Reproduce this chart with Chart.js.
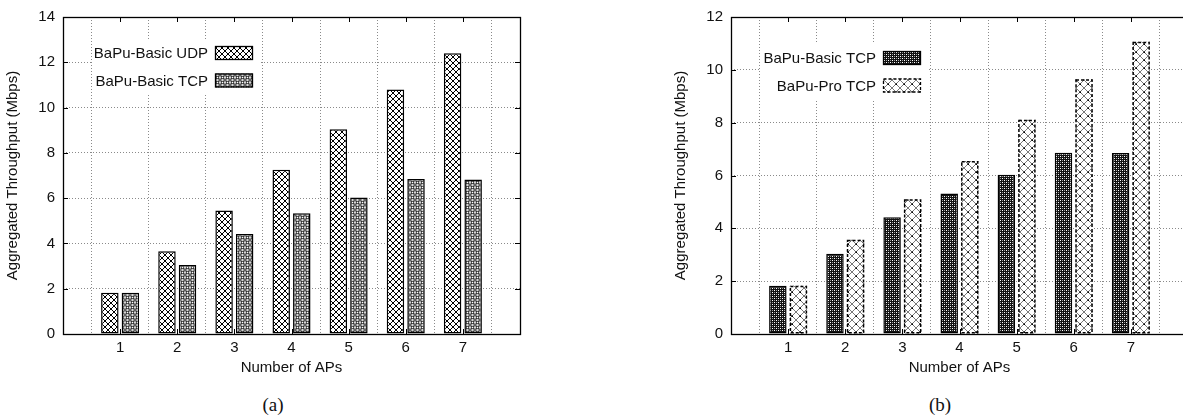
<!DOCTYPE html>
<html>
<head>
<meta charset="utf-8">
<script src="https://cdn.jsdelivr.net/npm/chart.js@4.4.1/dist/chart.umd.min.js"></script>
<style>
  html, body { margin: 0; padding: 0; background: #fff; overflow: hidden; width: 1183px; height: 417px; }
  .box { position: absolute; top: 0; width: 530px; height: 380px; }
  #boxA { left: 0; }
  #boxB { left: 668px; }
  .cap { position: absolute; top: 394px; line-height: 24px; font: 19px "Liberation Serif", "DejaVu Serif", serif; color: #111; transform: translateX(-50%); }
</style>
</head>
<body>
<div class="box" id="boxA"><canvas id="chartA"></canvas></div>
<div class="box" id="boxB"><canvas id="chartB"></canvas></div>
<div class="cap" style="left:273px">(a)</div>
<div class="cap" style="left:940px">(b)</div>
<script>
// number of APs (blank slots give the half-gap at each end of the axis)
const apLabels = ['', '1', '2', '3', '4', '5', '6', '7', ''];

// (a) throughput in Mbps
const basicUdp = [1.82, 3.65, 5.45, 7.25, 9.04, 10.8, 12.4];
const basicTcpA = [1.82, 3.05, 4.42, 5.33, 6.03, 6.85, 6.82];

// (b) throughput in Mbps
const basicTcpB = [1.83, 3.04, 4.42, 5.32, 6.03, 6.86, 6.85];
const proTcp = [1.83, 3.57, 5.1, 6.55, 8.11, 9.64, 11.06];

const yTicksA = { max: 14, step: 2 };
const yTicksB = { max: 12, step: 2 };

const pad = v => [null, ...v, null];

function makePattern(size, draw) {
  const c = document.createElement('canvas');
  c.width = c.height = size;
  const g = c.getContext('2d');
  g.fillStyle = '#fff';
  g.fillRect(0, 0, size, size);
  draw(g, size);
  return g.createPattern(c, 'repeat');
}

function cross(g, s, color, w) {
  g.strokeStyle = color;
  g.lineWidth = w;
  g.beginPath();
  g.moveTo(-1, -1); g.lineTo(s + 1, s + 1);
  g.moveTo(s + 1, -1); g.lineTo(-1, s + 1);
  g.stroke();
}

function ring(g, x, y, r) {
  g.beginPath();
  g.arc(x, y, r, 0, Math.PI * 2);
  g.fillStyle = '#fff';
  g.fill();
  g.strokeStyle = '#000';
  g.lineWidth = 0.9;
  g.stroke();
}

const patUdp = makePattern(6, (g, s) => cross(g, s, '#000', 1));
const patTcpA = makePattern(5, (g, s) => {
  cross(g, s, '#222', 0.9);
  ring(g, 2.5, 2.5, 1.2);
  [[0, 0], [5, 0], [0, 5], [5, 5]].forEach(p => ring(g, p[0], p[1], 1.2));
});
const patBasicB = makePattern(4, g => {
  g.fillStyle = '#111';
  g.fillRect(0, 0, 4, 4);
  g.fillStyle = '#fff';
  [[0, 0], [2, 2]].forEach(p => g.fillRect(p[0], p[1], 1, 1));
  g.fillStyle = '#999';
  [[0, 2], [2, 0]].forEach(p => g.fillRect(p[0], p[1], 1, 1));
});
const patPro = makePattern(8, (g, s) => {
  cross(g, s, '#555', 0.8);
  g.fillStyle = '#000';
  g.fillRect(3.5, 3.5, 1.5, 1.5);
});

const FONT = '"Liberation Sans", Arial, sans-serif';
const TXT = '#111';

// outer frame with small inward tick marks (gnuplot style)
const framePlugin = {
  id: 'frame',
  afterDatasetsDraw(chart) {
    const { ctx, chartArea: a, scales } = chart;
    ctx.save();
    // dashed outlines for bars that ask for them
    chart.data.datasets.forEach((ds, i) => {
      if (!ds.dashed) return;
      ctx.setLineDash([3, 2]);
      ctx.lineWidth = 1.5;
      ctx.strokeStyle = '#000';
      chart.getDatasetMeta(i).data.forEach((bar, j) => {
        if (ds.data[j] == null) return;
        const { x, y, base, width } = bar.getProps(['x', 'y', 'base', 'width'], true);
        ctx.strokeRect(x - width / 2 + 0.75, y + 0.75, width - 1.5, base - y - 1.5);
      });
    });
    ctx.setLineDash([]);
    ctx.strokeStyle = '#000';
    ctx.lineWidth = 1;
    ctx.beginPath();
    scales.y.ticks.forEach((t, i) => {
      const py = Math.round(scales.y.getPixelForTick(i)) + 0.5;
      ctx.moveTo(a.left, py); ctx.lineTo(a.left + 5, py);
      ctx.moveTo(a.right, py); ctx.lineTo(a.right - 5, py);
    });
    scales.x.ticks.forEach((t, i) => {
      if (!apLabels[i]) return;
      const px = Math.round(scales.x.getPixelForTick(i)) + 0.5;
      ctx.moveTo(px, a.bottom); ctx.lineTo(px, a.bottom - 5);
      ctx.moveTo(px, a.top); ctx.lineTo(px, a.top + 5);
    });
    ctx.stroke();
    ctx.lineWidth = 1.3;
    ctx.strokeRect(Math.round(a.left) + 0.5, Math.round(a.top) + 0.5, Math.round(a.width), Math.round(a.height));
    ctx.restore();
  }
};

// key in the upper left: text, then a swatch on its right
const keyPlugin = {
  id: 'key',
  afterDraw(chart, args, opts) {
    const { ctx, chartArea: a } = chart;
    ctx.save();
    ctx.fillStyle = '#fff';
    ctx.fillRect(a.left + 29, a.top + opts.top - 14, 168, 56);
    ctx.font = '15px ' + FONT;
    ctx.textAlign = 'right';
    ctx.textBaseline = 'middle';
    chart.data.datasets.forEach((ds, i) => {
      const cy = a.top + opts.top + i * 27.5;
      ctx.fillStyle = TXT;
      ctx.fillText(ds.label, a.left + 145, cy + 1);
      ctx.fillStyle = ds.backgroundColor;
      ctx.fillRect(a.left + 152, cy - 7, 38, 14);
      ctx.strokeStyle = '#000';
      ctx.lineWidth = 1.3;
      if (ds.dashed) ctx.setLineDash([3, 2]);
      ctx.strokeRect(a.left + 152.5, cy - 6.5, 37, 13);
      ctx.setLineDash([]);
    });
    ctx.restore();
  }
};

function makeChart(id, sets, yt, keyTop) {
  return new Chart(document.getElementById(id), {
    type: 'bar',
    data: {
      labels: apLabels,
      datasets: sets.map(s => ({
        label: s.label,
        data: pad(s.values),
        backgroundColor: s.pattern,
        borderColor: '#000',
        borderWidth: s.dashed ? 0 : 1.5,
        borderSkipped: false,
        dashed: s.dashed,
        categoryPercentage: 0.72,
        barPercentage: 0.85
      }))
    },
    options: {
      responsive: true,
      maintainAspectRatio: false,
      animation: false,
      layout: { padding: { top: 12, right: 10, left: 0, bottom: 0 } },
      plugins: {
        legend: { display: false },
        tooltip: { enabled: false },
        key: { top: keyTop }
      },
      scales: {
        x: {
          offset: false,
          afterFit: s => { s.height = 46; },
          grid: { color: '#8a8a8a', drawTicks: false },
          border: { display: false, dash: [1, 2] },
          ticks: { autoSkip: false, maxRotation: 0, padding: 5, color: TXT, font: { family: FONT, size: 15 } },
          title: { display: true, text: 'Number of APs', color: TXT, padding: { top: 0, bottom: 3 }, font: { family: FONT, size: 15 } }
        },
        y: {
          min: 0,
          max: yt.max,
          afterFit: s => { s.width = 63; },
          grid: { color: '#8a8a8a', drawTicks: false },
          border: { display: false, dash: [1, 2] },
          ticks: { stepSize: yt.step, padding: 8, color: TXT, font: { family: FONT, size: 15 } },
          title: { display: true, text: 'Aggregated Throughput (Mbps)', color: TXT, padding: { top: 4, bottom: 0 }, font: { family: FONT, size: 15 } }
        }
      }
    },
    plugins: [framePlugin, keyPlugin]
  });
}

makeChart('chartA', [
  { label: 'BaPu-Basic UDP', values: basicUdp, pattern: patUdp },
  { label: 'BaPu-Basic TCP', values: basicTcpA, pattern: patTcpA }
], yTicksA, 36);

makeChart('chartB', [
  { label: 'BaPu-Basic TCP', values: basicTcpB, pattern: patBasicB },
  { label: 'BaPu-Pro TCP', values: proTcp, pattern: patPro, dashed: true }
], yTicksB, 41);
</script>
</body>
</html>
